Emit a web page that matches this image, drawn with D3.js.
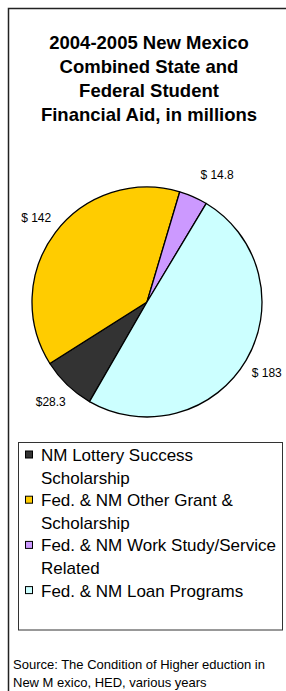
<!DOCTYPE html>
<html>
<head>
<meta charset="utf-8">
<script src="https://cdn.jsdelivr.net/npm/d3@7"></script>
<style>
  html, body { margin: 0; padding: 0; background: #fff; }
  text { font-family: "Liberation Sans", Arial, sans-serif; }
</style>
</head>
<body>
<svg id="chart"></svg>
<script>
// chart data
const titleLines = ["2004-2005 New Mexico", "Combined State and", "Federal Student", "Financial Aid, in millions"];
const categories = ["NM Lottery Success Scholarship", "Fed. & NM Other Grant & Scholarship",
  "Fed. & NM Work Study/Service Related", "Fed. & NM Loan Programs"];
const legendLines = [["NM Lottery Success", "Scholarship"], ["Fed. & NM Other Grant &", "Scholarship"],
  ["Fed. & NM Work Study/Service", "Related"], ["Fed. & NM Loan Programs"]];
const values = [28.3, 142, 14.8, 183];
const valueLabels = ["$28.3", "$ 142", "$ 14.8", "$ 183"];
const sourceLines = ["Source: The Condition of Higher eduction in", "New M exico, HED, various years"];

const width = 286;
const height = 691;

const svg = d3.select('#chart')
  .attr('width', width)
  .attr('height', height);

// outer frame (only top and left edges fall inside the picture)
svg.append('rect')
  .attr('x', 8.5).attr('y', 8.5)
  .attr('width', 300).attr('height', 700)
  .attr('fill', 'none')
  .attr('stroke', '#222')
  .attr('stroke-width', 1.5);

// title
svg.append('g').selectAll('text')
  .data(titleLines)
  .enter().append('text')
    .attr('x', 149)
    .attr('y', (d, i) => 48.5 + i * 24.2)
    .attr('text-anchor', 'middle')
    .attr('font-size', 18.5)
    .attr('font-weight', 'bold')
    .attr('fill', '#000')
    .text(d => d);

// pie
const cx = 147, cy = 302, radius = 115;
const color = d3.scaleOrdinal()
  .domain(categories)
  .range(['#333333', '#FFCC00', '#CC99FF', '#CCFFFF']);

const start = 210 * Math.PI / 180;
const pie = d3.pie().sort(null).startAngle(start).endAngle(start + 2 * Math.PI);
const arcs = pie(values);
const arc = d3.arc().innerRadius(0).outerRadius(radius);
const labelArc = d3.arc().innerRadius(139).outerRadius(139);

const pieG = svg.append('g').attr('transform', `translate(${cx},${cy})`);
pieG.selectAll('path')
  .data(arcs)
  .enter().append('path')
    .attr('d', arc)
    .attr('fill', (d, i) => color(categories[i]))
    .attr('stroke', '#000')
    .attr('stroke-width', 1.3)
    .attr('stroke-linejoin', 'round');

// labels sit outside the slices; small slice near the top gets pushed right like Excel does
pieG.selectAll('.lbl')
  .data(arcs)
  .enter().append('text')
    .attr('class', 'lbl')
    .attr('transform', d => {
      const [x, y] = labelArc.centroid(d);
      const push = (d.endAngle - d.startAngle) < 0.4 ? 14 : 0;
      return `translate(${x + push},${y})`;
    })
    .attr('dy', '0.35em')
    .attr('text-anchor', 'middle')
    .attr('font-size', 12)
    .attr('fill', '#000')
    .text((d, i) => valueLabels[i]);

// legend
const legend = svg.append('g');
legend.append('rect')
  .attr('x', 18.5).attr('y', 442.5)
  .attr('width', 264).attr('height', 187.5)
  .attr('fill', '#fff')
  .attr('stroke', '#333')
  .attr('stroke-width', 1);

let lineNo = 0;
legendLines.forEach((lines, i) => {
  const base = 461 + lineNo * 22.6;
  legend.append('rect')
    .attr('x', 25.5).attr('y', base - 10)
    .attr('width', 7).attr('height', 7)
    .attr('fill', color(categories[i]))
    .attr('stroke', '#000')
    .attr('stroke-width', 1);
  lines.forEach((t, j) => {
    legend.append('text')
      .attr('x', 41)
      .attr('y', base + j * 22.6)
      .attr('font-size', 17)
      .attr('fill', '#000')
      .text(t);
  });
  lineNo += lines.length;
});

// source note
svg.append('g').selectAll('text')
  .data(sourceLines)
  .enter().append('text')
    .attr('x', 13)
    .attr('y', (d, i) => 669 + i * 17.5)
    .attr('font-size', 13)
    .attr('fill', '#000')
    .text(d => d);
</script>
</body>
</html>
